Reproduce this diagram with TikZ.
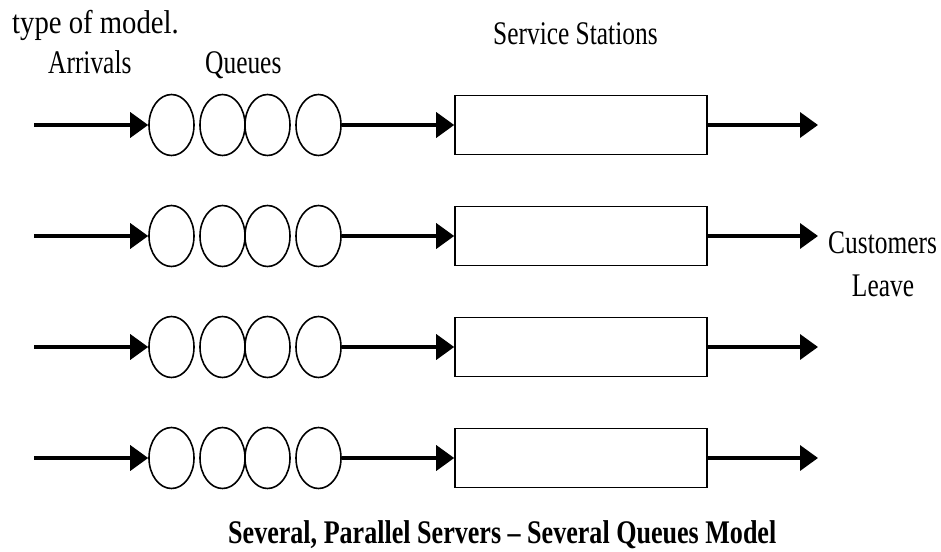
\documentclass[tikz,border=0pt]{standalone}
\usepackage{fontspec}
\setmainfont[FakeStretch=0.77]{Liberation Serif}
\newfontfamily\capfont[FakeStretch=0.79,Ligatures=TeX]{Liberation Serif}
\newfontfamily\topfont[FakeStretch=0.87,Ligatures=TeX]{Liberation Serif}
\usetikzlibrary{arrows.meta,shapes.geometric}
\tikzset{
  qcirc/.style={draw, ellipse, line width=1.6pt, minimum width=45pt, minimum height=61pt, inner sep=0pt},
  sbox/.style={draw, rectangle, line width=1.6pt, minimum width=252pt, minimum height=59pt, inner sep=0pt},
  arr/.style={line width=3.6pt, -{Triangle[length=18pt,width=25pt]}},
  lbl/.style={font=\fontsize{33}{36}\selectfont, inner sep=0pt, anchor=base west},
}
\begin{document}
\begin{tikzpicture}[x=1pt,y=-1pt]
\useasboundingbox (0,0) rectangle (941,551);
\node[lbl, font=\fontsize{33}{36}\topfont] (title) at (12,34) {type of model.};
\node[lbl] (arrivals) at (48,73) {Arrivals};
\node[lbl] (queues) at (205,73) {Queues};
\node[lbl] (service) at (493,45) {Service Stations};
\node[lbl] (customers) at (828,253) {Customers};
\node[lbl, anchor=base] (leave) at (883,296) {Leave};
\node[lbl, font=\fontsize{33}{36}\capfont\bfseries] (caption) at (228,543) {Several, Parallel Servers – Several Queues Model};
\foreach \r/\y in {1/125,2/236,3/347,4/458}{
  \coordinate (in-\r) at (34,\y);
  \coordinate (out-\r) at (818,\y);
  \node[qcirc] (q-\r-1) at (171.5,\y) {};
  \node[qcirc] (q-\r-2) at (222.5,\y) {};
  \node[qcirc] (q-\r-3) at (267.5,\y) {};
  \node[qcirc] (q-\r-4) at (318.5,\y) {};
  \node[sbox] (s-\r) at (581,\y) {};
  \draw[arr] (in-\r) -- (q-\r-1);
  \draw[arr] (q-\r-4) -- (s-\r);
  \draw[arr] (s-\r) -- (out-\r);
}
\end{tikzpicture}
\end{document}
